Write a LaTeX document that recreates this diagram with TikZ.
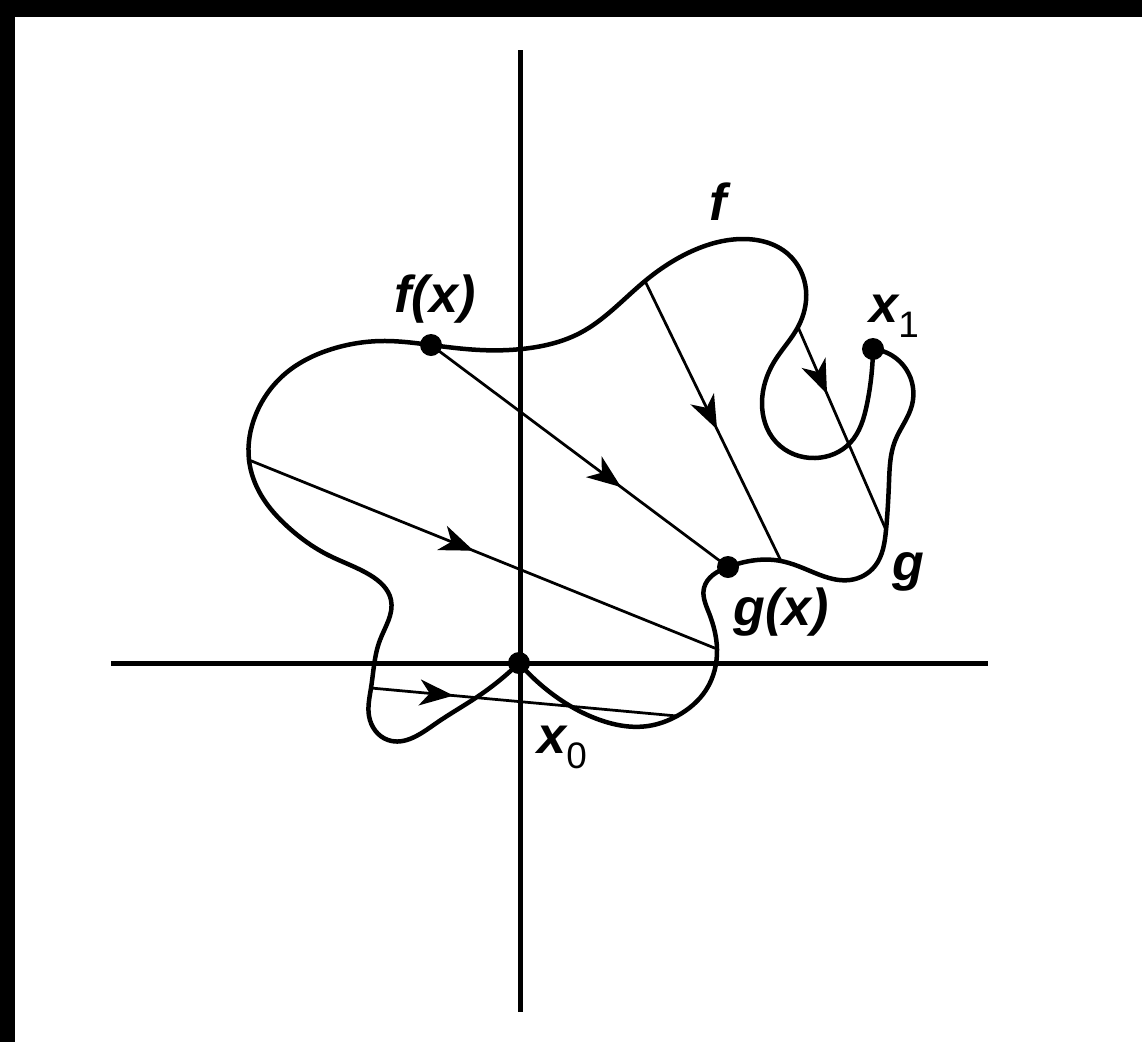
\documentclass[tikz,border=0pt]{standalone}
\usepackage{fontspec}
\newfontfamily\labfont{Liberation Sans}
\usetikzlibrary{arrows.meta,decorations.markings,hobby}
\begin{document}
\begin{tikzpicture}[x=0.02cm,y=-0.02cm, use Hobby shortcut]
\tikzset{
  curve/.style={line width=0.09cm, line join=round, line cap=round},
  axisline/.style={line width=0.1cm},
  homot/.style={line width=0.055cm},
  dot/.style={circle, fill=black, inner sep=0pt, minimum size=0.44cm},
  lab/.style={inner sep=0pt, font=\labfont\bfseries\itshape\fontsize{29.6pt}{34pt}\selectfont},
  arrowat/.style={postaction={decorate}, decoration={markings,
     mark=at position #1 with {\arrow{Stealth[length=0.68cm,width=0.52cm,inset=0.2cm]}}}}
}
\newcommand{\subdigit}[1]{\raisebox{-9pt}{\mdseries\upshape\fontsize{21pt}{23pt}\selectfont #1}}
% canvas
\useasboundingbox (0,0) rectangle (1142,1042);
\fill[white] (0,0) rectangle (1142,1042);
\fill[black] (0,0) rectangle (1142,17);
\fill[black] (0,0) rectangle (15,1042);

% key points
\coordinate (X0) at (519,663);
\coordinate (X1) at (873,349);
\coordinate (FX) at (431,345);
\coordinate (GX) at (728,567);
\coordinate (A1) at (371,688);
\coordinate (B1) at (677,716);
\coordinate (A2) at (249,460);
\coordinate (B2) at (717,649);
\coordinate (A4) at (645,281);
\coordinate (B4) at (781,561);
\coordinate (A5) at (798,327);
\coordinate (B5) at (886,530);

% axes
\coordinate (VT) at (520,50);
\coordinate (VB) at (520,1012);
\coordinate (HL) at (111,663);
\coordinate (HR) at (988,663);
\draw[axisline] (VT) -- (VB);
\draw[axisline] (HL) -- (HR);

% path f
\draw[curve] (X0) .. (480,695) .. (435,724) .. (388,740) .. (369,716) .. (A1)
  .. (380,640) .. (391,600) .. (370,575) .. (328,555) .. (288,527) .. (261,495)
  .. (A2) .. (256,414) .. (286,373) .. (332,349) .. (382,341) .. (FX)
  .. (480,350) .. (530,348) .. (580,333) .. (A4) .. (690,252) .. (742,239)
  .. (788,254) .. (806,290) .. (A5) .. (774,362) .. (762,402) .. (776,442)
  .. (815,458) .. (850,443) .. (867,404) .. (X1);

% path g
\draw[curve] (X0) .. (555,696) .. (600,720) .. (648,726) .. (B1) .. (706,690)
  .. (B2) .. (709,613) .. (704,588) .. (GX) .. (B4) .. (815,573) .. (850,580)
  .. (875,566) .. (B5) .. (889,482) .. (895,441) .. (912,405) .. (906,369)
  .. (X1);

% homotopy segments
\draw[homot, arrowat=0.27] (A1) -- (B1);
\draw[homot, arrowat=0.48] (A2) -- (B2);
\draw[homot, arrowat=0.64] (FX) -- (GX);
\draw[homot, arrowat=0.53] (A4) -- (B4);
\draw[homot, arrowat=0.33] (A5) -- (B5);

% dots
\node[dot] (x0) at (X0) {};
\node[dot] (x1) at (X1) {};
\node[dot] (fx) at (FX) {};
\node[dot] (gx) at (GX) {};

% labels
\node[lab, anchor=base] (lfx) at (435,312) {f(x)};
\node[lab, anchor=base] (lf) at (718,220) {f};
\node[lab, anchor=base] (lgx) at (781,625) {g(x)};
\node[lab, anchor=base] (lg) at (908,580) {g};
\node[lab, anchor=base west] (lx1) at (869,322) {x\subdigit{1}};
\node[lab, anchor=base west] (lx0) at (537,753) {x\subdigit{0}};
\end{tikzpicture}
\end{document}
